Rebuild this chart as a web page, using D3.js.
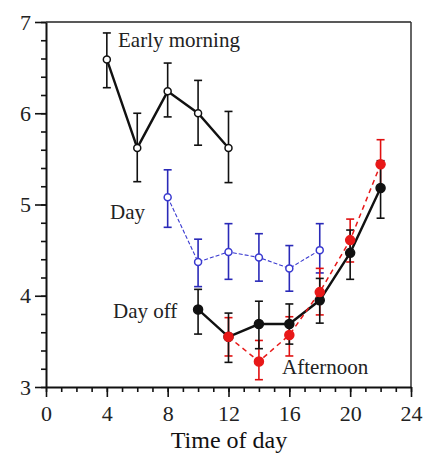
<!DOCTYPE html>
<html>
<head>
<meta charset="utf-8">
<script src="https://cdn.jsdelivr.net/npm/d3@7"></script>
<style>
  body { margin: 0; background: #fff; }
  svg text { font-family: "Liberation Serif", "DejaVu Serif", serif; }
</style>
</head>
<body>
<svg id="chart-svg"></svg>
<script>
const width = 429;
const height = 457;

// values: [hour, mean, upper, lower]
const earlyHours = [4, 6, 8, 10, 12];
const earlyMean = [6.59, 5.62, 6.24, 6.0, 5.62];
const earlyHi = [6.88, 6.0, 6.55, 6.36, 6.02];
const earlyLo = [6.28, 5.25, 5.96, 5.65, 5.24];

const dayHours = [8, 10, 12, 14, 16, 18];
const dayMean = [5.08, 4.37, 4.48, 4.42, 4.30, 4.50];
const dayHi = [5.38, 4.62, 4.79, 4.68, 4.55, 4.79];
const dayLo = [4.75, 4.10, 4.18, 4.16, 4.05, 4.25];

const offHours = [10, 12, 14, 16, 18, 20, 22];
const offMean = [3.85, 3.55, 3.69, 3.69, 3.95, 4.47, 5.18];
const offHi = [4.07, 3.81, 3.94, 3.91, 4.19, 4.72, 5.48];
const offLo = [3.58, 3.27, 3.42, 3.47, 3.70, 4.18, 4.85];

const aftHours = [12, 14, 16, 18, 20, 22];
const aftMean = [3.55, 3.28, 3.57, 4.04, 4.61, 5.44];
const aftHi = [3.76, 3.51, 3.77, 4.30, 4.84, 5.71];
const aftLo = [3.34, 3.08, 3.34, 3.79, 4.37, 5.17];

const xTicks = [0, 4, 8, 12, 16, 20, 24];
const yTicks = [3, 4, 5, 6, 7];

let svg = d3.select("#chart-svg").attr("width", width).attr("height", height);

const x = d3.scaleLinear().domain([0, 24]).range([46, 411]);
const y = d3.scaleLinear().domain([3, 7]).range([387, 22]);

function rows(hours, mean, hi, lo) {
    return hours.map((h, i) => ({ h: h, m: mean[i], hi: hi[i], lo: lo[i] }));
}

// frame (top and right)
svg.append("line").attr("x1", x(0)).attr("x2", x(24)).attr("y1", y(7)).attr("y2", y(7))
    .attr("stroke", "#222").attr("stroke-width", 1.5);
svg.append("line").attr("x1", x(24)).attr("x2", x(24)).attr("y1", y(7)).attr("y2", y(3))
    .attr("stroke", "#333").attr("stroke-width", 1.5);

// minor ticks
svg.append("g").attr("transform", "translate(0," + y(3) + ")")
    .call(d3.axisBottom(x).tickValues(d3.range(0, 25, 1)).tickSize(5).tickSizeOuter(0).tickFormat(""))
    .call(g => g.select(".domain").remove());
svg.append("g").attr("transform", "translate(" + x(0) + ",0)")
    .call(d3.axisLeft(y).tickValues(d3.range(3, 7.01, 0.2)).tickSize(5).tickSizeOuter(0).tickFormat(""))
    .call(g => g.select(".domain").remove());

// major ticks + labels
let xAxis = svg.append("g").attr("transform", "translate(0," + y(3) + ")")
    .call(d3.axisBottom(x).tickValues(xTicks).tickSize(10).tickSizeOuter(0).tickPadding(8)
        .tickFormat(d3.format("d")));
let yAxis = svg.append("g").attr("transform", "translate(" + x(0) + ",0)")
    .call(d3.axisLeft(y).tickValues(yTicks).tickSize(11).tickSizeOuter(0).tickPadding(4)
        .tickFormat(d3.format("d")));

[xAxis, yAxis].forEach(g => {
    g.attr("font-family", "Liberation Serif, serif").attr("font-size", 22);
    g.select(".domain").attr("stroke", "#111").attr("stroke-width", 2);
    g.selectAll("text").attr("fill", "#222");
});
svg.selectAll(".tick line").attr("stroke", "#111").attr("stroke-width", 1.6);

// axis title
svg.append("text").attr("x", 229).attr("y", 448).attr("text-anchor", "middle")
    .attr("font-size", 24).attr("fill", "#111").text("Time of day");

function errorBars(data, color, width) {
    let g = svg.append("g").attr("stroke", color).attr("stroke-width", width);
    data.forEach(d => {
        g.append("line").attr("x1", x(d.h)).attr("x2", x(d.h)).attr("y1", y(d.hi)).attr("y2", y(d.lo));
        g.append("line").attr("x1", x(d.h) - 4).attr("x2", x(d.h) + 4).attr("y1", y(d.hi)).attr("y2", y(d.hi));
        g.append("line").attr("x1", x(d.h) - 4).attr("x2", x(d.h) + 4).attr("y1", y(d.lo)).attr("y2", y(d.lo));
    });
}

function series(data, color, lineWidth, dash, filled, r) {
    const line = d3.line().x(d => x(d.h)).y(d => y(d.m));
    svg.append("path").datum(data).attr("d", line)
        .attr("fill", "none").attr("stroke", color).attr("stroke-width", lineWidth)
        .attr("stroke-dasharray", dash);
    svg.append("g").selectAll("circle").data(data).enter().append("circle")
        .attr("cx", d => x(d.h)).attr("cy", d => y(d.m)).attr("r", r)
        .attr("fill", filled ? color : "#fff")
        .attr("stroke", color).attr("stroke-width", 1.5);
}

const early = rows(earlyHours, earlyMean, earlyHi, earlyLo);
const day = rows(dayHours, dayMean, dayHi, dayLo);
const off = rows(offHours, offMean, offHi, offLo);
const aft = rows(aftHours, aftMean, aftHi, aftLo);

errorBars(early, "#111", 1.6);
series(early, "#111", 2.4, null, false, 3.5);

errorBars(day, "#2a2ab8", 1.6);
series(day, "#3a3ad0", 1.1, "4,2", false, 3.5);

errorBars(aft, "#e01010", 1.6);
errorBars(off, "#111", 1.6);
series(off, "#111", 2.4, null, true, 4.5);
series(aft, "#e81818", 1.5, "5,4", true, 4.5);

// series labels
const labels = [
    { t: "Early morning", x: 118, y: 47 },
    { t: "Day", x: 110, y: 219 },
    { t: "Day off", x: 113, y: 318 },
    { t: "Afternoon", x: 282, y: 374 }
];
svg.selectAll("text.label").data(labels).enter().append("text")
    .attr("class", "label").attr("x", d => d.x).attr("y", d => d.y)
    .attr("font-size", 21).attr("fill", "#222").text(d => d.t);
</script>
</body>
</html>
